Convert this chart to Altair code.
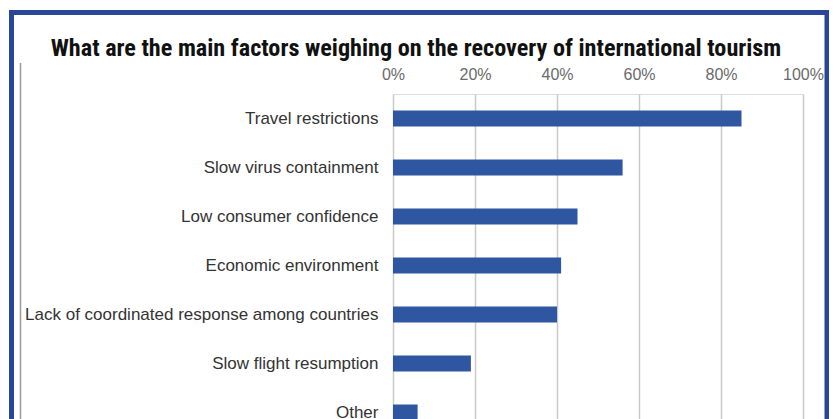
import altair as alt
import pandas as pd

factors = [
    "Travel restrictions",
    "Slow virus containment",
    "Low consumer confidence",
    "Economic environment",
    "Lack of coordinated response among countries",
    "Slow flight resumption",
    "Other",
]
shares = [0.85, 0.56, 0.45, 0.41, 0.40, 0.19, 0.06]
tick_values = [0, 0.2, 0.4, 0.6, 0.8, 1.0]
title_text = "What are the main factors weighing on the recovery of international tourism"

df = pd.DataFrame({"factor": factors, "share": shares})

BAR = "#2F56A0"
FRAME = "#2A4696"

bars = alt.Chart(df).mark_bar(size=16, color=BAR).encode(
    x=alt.X(
        "share:Q",
        scale=alt.Scale(domain=[0, 1], nice=False),
        axis=alt.Axis(
            orient="top",
            format=".0%",
            values=tick_values,
            title=None,
            domain=False,
            ticks=False,
            grid=True,
            gridColor="#c9c9c9",
            gridWidth=1.5,
            labelColor="#6a6a6a",
            labelFont="Liberation Sans",
            labelFontSize=16,
            labelPadding=12,
            labelFlush=False,
            labelOverlap=False,
        ),
    ),
    y=alt.Y(
        "factor:N",
        sort=factors,
        scale=alt.Scale(paddingInner=0, paddingOuter=0),
        axis=alt.Axis(
            title=None,
            domain=False,
            ticks=False,
            grid=False,
            labelColor="#333333",
            labelFont="Liberation Sans",
            labelFontSize=17,
            labelPadding=15,
            labelLimit=500,
        ),
    ),
)

one = pd.DataFrame({"t": [title_text]})
frame = alt.Chart(one).mark_rect(
    fill=None, stroke=FRAME, strokeWidth=5
).encode(
    x=alt.value(-381.5), x2=alt.value(434), y=alt.value(-81.5), y2=alt.value(520)
)
inner = alt.Chart(one).mark_rule(color="#9a9a9a", strokeWidth=1.5).encode(
    x=alt.value(-372.5), y=alt.value(-31), y2=alt.value(520)
)
title = alt.Chart(one).mark_text(
    font="Roboto Condensed, DejaVu Sans Condensed, Liberation Sans",
    fontWeight="bold",
    fontSize=24.2,
    color="#111111",
    align="center",
    baseline="alphabetic",
).encode(x=alt.value(23), y=alt.value(-38), text="t:N")

chart = (
    alt.layer(bars, frame, inner, title)
    .properties(
        width=410,
        height=343,
        autosize=alt.AutoSizeParams(type="none"),
        padding={"left": 385, "top": 86, "right": 26, "bottom": 0},
    )
    .configure_view(stroke=None)
    .configure(background="white")
)

chart.save("out.html", embed_options={"renderer": "svg", "actions": False})
